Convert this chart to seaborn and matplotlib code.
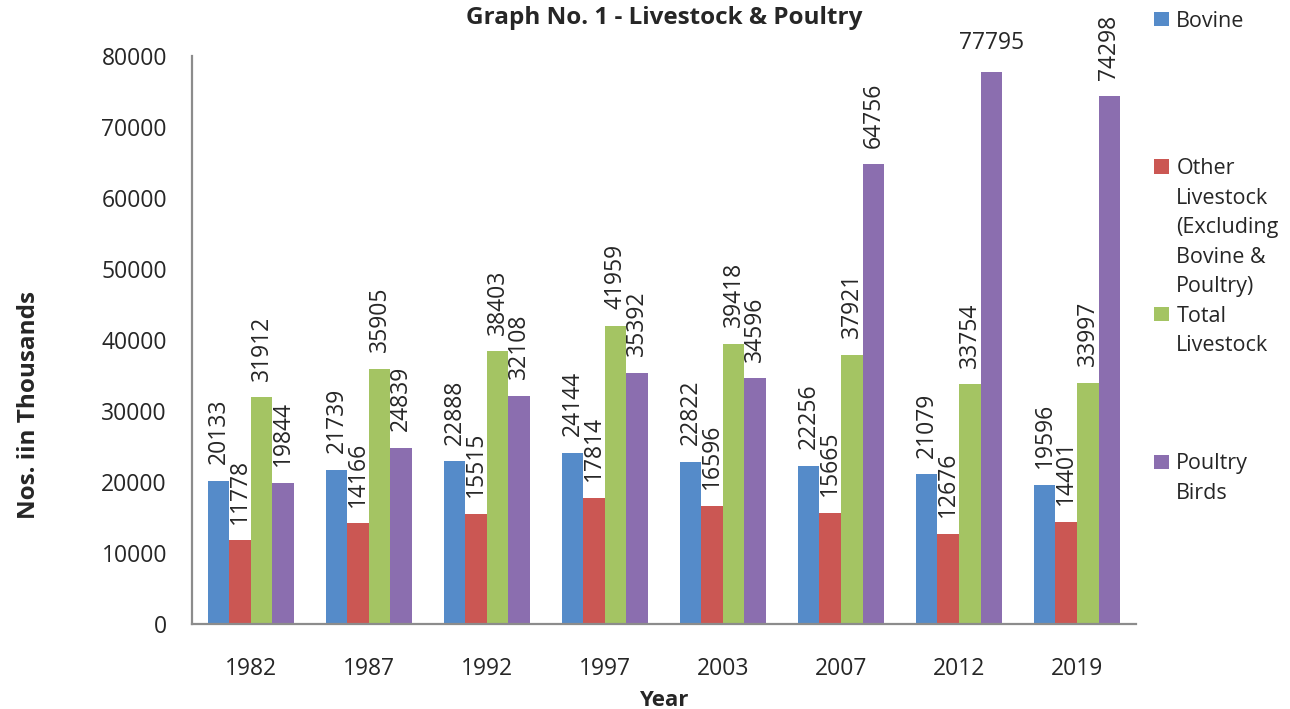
import matplotlib.pyplot as plt
import seaborn as sns
import pandas as pd
from matplotlib.patches import Patch

# Data
years = ["1982", "1987", "1992", "1997", "2003", "2007", "2012", "2019"]
bovine = [20133, 21739, 22888, 24144, 22822, 22256, 21079, 19596]
other_livestock = [11778, 14166, 15515, 17814, 16596, 15665, 12676, 14401]
total_livestock = [31912, 35905, 38403, 41959, 39418, 37921, 33754, 33997]
poultry_birds = [19844, 24839, 32108, 35392, 34596, 64756, 77795, 74298]

series_names = ["Bovine", "Other Livestock", "Total Livestock", "Poultry Birds"]
# legend text as wrapped in the original
legend_lines = [
    ["Bovine"],
    ["Other", "Livestock", "(Excluding", "Bovine &", "Poultry)"],
    ["Total", "Livestock"],
    ["Poultry", "Birds"],
]
legend_rows = [0, 5, 10, 15]
series_values = [bovine, other_livestock, total_livestock, poultry_birds]
colors = ["#558BC9", "#CB5753", "#A4C463", "#8B6EAF"]

records = []
for name, vals in zip(series_names, series_values):
    for yr, v in zip(years, vals):
        records.append({"Year": yr, "series": name, "value": v})
df = pd.DataFrame(records)

sns.set_style("white")
plt.rcParams["font.family"] = ["Open Sans", "DejaVu Sans"]

fig = plt.figure(figsize=(12.9, 7.09), dpi=100)
ax = fig.add_axes([0.1488, 0.1199, 0.7318, 0.8011])

sns.barplot(
    data=df,
    x="Year",
    y="value",
    hue="series",
    hue_order=series_names,
    order=years,
    palette=colors,
    width=0.73,
    gap=0,
    errorbar=None,
    saturation=1,
    linewidth=0,
    ax=ax,
    legend=False,
)

ymax = 80000
for cont in ax.containers:
    texts = ax.bar_label(cont, fmt="%d", rotation=90, padding=12, fontsize=16.5)
    # labels that would run past the top are drawn flat, as Excel does
    for t, bar in zip(texts, cont):
        if bar.get_height() > 0.95 * ymax:
            t.set_rotation(0)

ax.set_xlim(-0.5, len(years) - 0.5)
ax.set_ylim(0, ymax)
ax.set_yticks(range(0, ymax + 1, 10000))
ax.tick_params(axis="y", length=5, width=1.5, color="#8c8c8c", labelsize=16.5, pad=13)
ax.tick_params(axis="x", length=0, labelsize=16.5, pad=24)
for side in ["top", "right"]:
    ax.spines[side].set_visible(False)
for side in ["left", "bottom"]:
    ax.spines[side].set_color("#8c8c8c")
    ax.spines[side].set_linewidth(1.6)

ax.set_title("Graph No. 1 - Livestock & Poultry", fontsize=17.5, fontweight="bold", pad=23)
ax.set_xlabel("Year", fontsize=16, fontweight="bold")
ax.xaxis.set_label_coords(0.5, -0.116)
ax.set_ylabel("Nos. iin Thousands", fontsize=17.5, fontweight="bold")
ax.yaxis.set_label_coords(-0.16, 0.386)

# Excel-style legend: one row per text line, swatch on the first line of each entry
n_rows = 17
handles = [Patch(facecolor="none", edgecolor="none") for _ in range(n_rows)]
labels = [""] * n_rows
for lines, row, col in zip(legend_lines, legend_rows, colors):
    handles[row] = Patch(facecolor=col, edgecolor="none")
    for k, line in enumerate(lines):
        labels[row + k] = line

fig.legend(
    handles,
    labels,
    loc="upper left",
    bbox_to_anchor=(1143 / 1290, 1 - 0 / 709),
    frameon=False,
    fontsize=15.5,
    borderpad=0,
    labelspacing=0.395,
    handlelength=0.7,
    handleheight=0.66,
    handletextpad=0.35,
)

fig.savefig("out.png", dpi=100)
